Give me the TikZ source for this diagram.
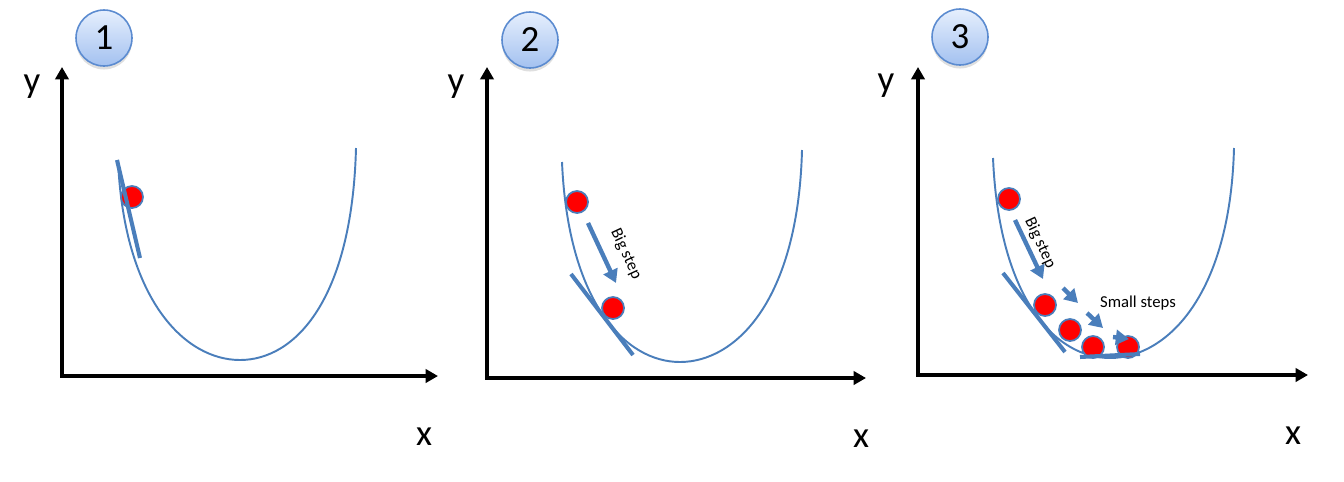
\documentclass[tikz,border=0pt]{standalone}
\usepackage{fontspec}
\setmainfont{Carlito}
\usetikzlibrary{arrows.meta,shadows}

\definecolor{curveblue}{HTML}{4A7EBB}
\definecolor{numtop}{HTML}{E6EFFD}
\definecolor{numbot}{HTML}{A3C1F0}
\definecolor{numline}{HTML}{5B8BD0}

\tikzset{
  axis/.style={line width=2pt, {Triangle[length=7pt,width=7.5pt]}-{Triangle[length=7pt,width=7.5pt]}},
  bowl/.style={curveblue, line width=1.1pt},
  tangent/.style={curveblue, line width=2.3pt},
  ball/.style={circle, fill=red, draw=curveblue, line width=1pt, minimum size=0.44cm, inner sep=0pt},
  stepar/.style={curveblue, line width=2.5pt, -{Triangle[length=7.5pt,width=8.5pt]}},
  numbadge/.style={circle, draw=numline, line width=0.9pt, top color=numtop, bottom color=numbot,
    minimum size=1.12cm, inner sep=0pt, font=\fontsize{21}{21}\selectfont,
    drop shadow={shadow xshift=0pt, shadow yshift=-2pt, opacity=0.25}},
  axlabel/.style={font=\fontsize{21}{21}\selectfont},
  steplabel/.style={font=\fontsize{9.5}{10}\selectfont}
}

\begin{document}
\begin{tikzpicture}[x=0.02cm, y=-0.02cm]
    \useasboundingbox (0,0) rectangle (1344,481);

    % panel 1
    \node[numbadge] (n1) at (104,38) {1};
    \coordinate (ye1) at (62,67);
    \coordinate (xe1) at (438,376);
    \draw[axis] (ye1) |- (xe1);
    \node[axlabel] (ylab1) at (32,87) {y};
    \node[axlabel] (xlab1) at (424,437) {x};
    \draw[bowl] (118,160) .. controls (124,300) and (185,360) .. (240,360)
                .. controls (295,360) and (352,300) .. (356,148);
    \node[ball] (b11) at (132,197) {};
    \coordinate (t1a) at (117,160);
    \coordinate (t1b) at (140,258);
    \draw[tangent] (t1a) -- (t1b);

    % panel 2
    \node[numbadge] (n2) at (530,40) {2};
    \coordinate (ye2) at (487,67);
    \coordinate (xe2) at (866,378);
    \draw[axis] (ye2) |- (xe2);
    \node[axlabel] (ylab2) at (456,87) {y};
    \node[axlabel] (xlab2) at (861,439) {x};
    \draw[bowl] (562,162) .. controls (568,302) and (625,362) .. (680,362)
                .. controls (735,362) and (798,302) .. (802,150);
    \node[ball] (b21) at (577,202) {};
    \node[ball] (b22) at (613,308) {};
    \coordinate (t2a) at (571,274);
    \coordinate (t2b) at (633,355);
    \draw[tangent] (t2a) -- (t2b);
    \coordinate (s2a) at (588,223);
    \coordinate (s2b) at (616,283);
    \draw[stepar] (s2a) -- (s2b);
    \node[steplabel, rotate=-65] (big2) at (626,254) {Big step};

    % panel 3
    \node[numbadge] (n3) at (960,37) {3};
    \coordinate (ye3) at (918,67);
    \coordinate (xe3) at (1308,375);
    \draw[axis] (ye3) |- (xe3);
    \node[axlabel] (ylab3) at (886,86) {y};
    \node[axlabel] (xlab3) at (1293,436) {x};
    \draw[bowl] (993,158) .. controls (999,298) and (1055,358) .. (1110,358)
                .. controls (1165,358) and (1230,298) .. (1234,148);
    \node[ball] (b31) at (1009,199) {};
    \node[ball] (b32) at (1045,305) {};
    \node[ball] (b33) at (1070,330) {};
    \node[ball] (b34) at (1093,347) {};
    \node[ball] (b35) at (1128,347) {};
    \coordinate (t3a) at (1003,273);
    \coordinate (t3b) at (1065,352);
    \draw[tangent] (t3a) -- (t3b);
    \coordinate (t3c) at (1080,357);
    \coordinate (t3d) at (1140,354);
    \draw[tangent] (t3c) -- (t3d);
    \coordinate (s3a) at (1015,220);
    \coordinate (s3b) at (1043,279);
    \draw[stepar] (s3a) -- (s3b);
    \coordinate (s3c) at (1063,288);
    \coordinate (s3d) at (1078,303);
    \draw[stepar] (s3c) -- (s3d);
    \coordinate (s3e) at (1087,313);
    \coordinate (s3f) at (1103,328);
    \draw[stepar] (s3e) -- (s3f);
    \coordinate (s3g) at (1113,337);
    \coordinate (s3h) at (1129,339);
    \draw[stepar] (s3g) -- (s3h);
    \node[steplabel, rotate=-65] (big3) at (1040,243) {Big step};
    \node[steplabel] (small3) at (1138,303) {Small steps};
\end{tikzpicture}
\end{document}
